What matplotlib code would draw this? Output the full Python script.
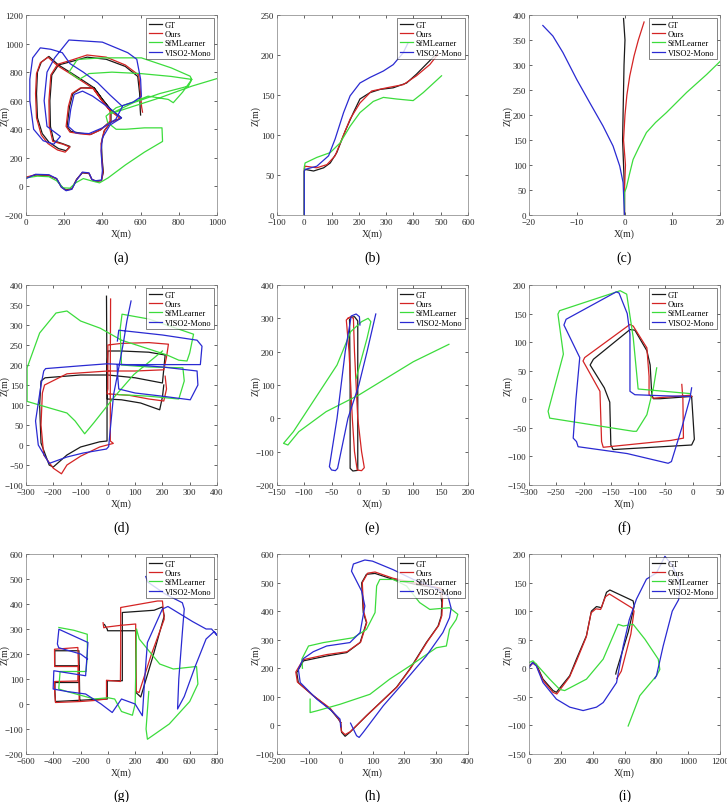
import numpy as np
import matplotlib
matplotlib.use("Agg")
import matplotlib.pyplot as plt

plt.rcParams['font.family'] = ['Liberation Serif', 'DejaVu Serif']

series_names = ["GT", "Ours", "SfMLearner", "VISO2-Mono"]
series_colors = ["#1a1a1a", "#d42424", "#3cdc3c", "#2a2ad2"]

# trajectories, (X, Z) in metres
# (a)
a_gt = [(0, 60), (50, 80), (120, 75), (160, 55), (185, 0), (210, -25), (240, -15), (265, 50), (295, 95),
        (330, 90), (345, 50), (365, 35), (395, 40), (405, 100), (398, 200), (395, 300), (410, 390), (445, 450),
        (500, 480), (445, 535), (400, 610), (357, 690), (290, 690), (245, 650), (228, 560), (215, 420),
        (235, 385), (290, 372), (340, 365), (393, 399), (445, 460), (445, 535), (400, 610), (357, 690),
        (300, 740), (230, 800), (170, 850), (120, 910), (80, 870), (60, 800), (55, 650), (60, 480), (85, 370),
        (120, 310), (170, 265), (210, 250), (230, 280), (190, 300), (145, 320), (128, 420), (125, 600),
        (135, 780), (170, 850), (240, 875), (320, 905), (420, 890), (520, 840), (585, 770), (595, 650),
        (598, 540), (600, 500)]
a_ours = [(0, 65), (50, 82), (120, 78), (160, 52), (185, -5), (210, -28), (240, -18), (265, 48), (295, 98),
          (330, 92), (345, 48), (365, 38), (395, 42), (403, 100), (396, 200), (393, 300), (408, 385), (440, 448),
          (495, 475), (440, 530), (395, 605), (352, 685), (285, 690), (240, 650), (222, 560), (210, 420),
          (230, 380), (285, 368), (335, 362), (390, 395), (440, 455), (440, 530), (395, 605), (352, 685),
          (295, 735), (225, 795), (165, 845), (115, 905), (75, 865), (55, 790), (50, 650), (55, 480), (80, 360),
          (115, 300), (165, 255), (205, 240), (230, 275), (195, 295), (140, 315), (122, 420), (120, 600),
          (130, 780), (165, 855), (240, 885), (320, 920), (420, 905), (520, 850), (590, 780), (600, 650),
          (605, 560), (610, 520)]
a_sfm = [(0, 60), (60, 72), (120, 68), (160, 40), (195, -10), (230, -12), (260, 25), (300, 55), (340, 40),
         (385, 25), (430, 60), (520, 150), (620, 240), (715, 315), (712, 410), (620, 410), (520, 400), (472, 400),
         (428, 446), (419, 492), (472, 551), (560, 590), (639, 632), (745, 609), (771, 586), (820, 660),
         (868, 749), (859, 772), (760, 830), (604, 900), (400, 900), (269, 889), (225, 800), (278, 749),
         (330, 790), (450, 800), (600, 790), (760, 770), (868, 749), (850, 702), (700, 650), (560, 585),
         (445, 510), (560, 560), (700, 620), (868, 702), (1000, 755)]
a_viso = [(0, 55), (50, 85), (120, 82), (160, 55), (185, -5), (210, -30), (240, -20), (265, 45), (295, 100),
          (330, 95), (345, 48), (365, 40), (395, 45), (400, 110), (393, 250), (400, 340), (440, 430), (500, 480),
          (445, 540), (349, 632), (296, 667), (252, 644), (234, 539), (222, 420), (260, 375), (330, 370),
          (400, 410), (470, 470), (505, 560), (440, 640), (375, 726), (300, 800), (230, 860), (190, 936),
          (130, 960), (75, 970), (35, 900), (20, 750), (20, 600), (40, 400), (90, 320), (145, 295), (180, 350),
          (150, 380), (110, 420), (95, 600), (110, 800), (150, 900), (225, 1025), (400, 1010), (533, 936),
          (580, 890), (600, 750), (604, 630), (560, 590), (505, 565)]

# (b)
b_gt = [(0, 0), (0, 55), (3, 57), (34, 55), (71, 59), (95, 65), (119, 78), (150, 105), (180, 128), (204, 145),
        (241, 153), (278, 157), (326, 159), (375, 165), (411, 176), (466, 195), (480, 200)]
b_ours = [(0, 0), (0, 58), (3, 61), (46, 59), (83, 63), (113, 74), (138, 95), (168, 120), (204, 140),
          (247, 155), (302, 159), (363, 163), (411, 174), (460, 188), (490, 201)]
b_sfm = [(0, 0), (0, 60), (3, 65), (46, 72), (95, 78), (131, 90), (168, 111), (204, 128), (253, 142),
         (290, 147), (338, 145), (399, 143), (436, 153), (503, 174)]
b_viso = [(0, 0), (0, 55), (3, 57), (46, 61), (89, 74), (113, 95), (144, 128), (168, 149), (204, 165),
          (241, 172), (290, 180), (326, 188), (363, 203), (380, 215)]

# (c)
c_gt = [(0, 0), (0, 50), (-0.2, 100), (-0.4, 150), (-0.3, 200), (-0.2, 250), (-0.1, 300), (0.1, 350),
        (-0.2, 393)]
c_ours = [(0, 0), (0, 50), (0.2, 100), (-0.2, 150), (0.1, 200), (0.5, 240), (1.1, 278), (2, 318),
          (2.9, 350), (4.1, 386)]
c_sfm = [(0, 0), (0, 45), (0.4, 55), (1, 80), (1.8, 111), (3, 135), (4.6, 165), (6.5, 185), (8.8, 205),
         (13, 245), (17.2, 281), (20, 307)]
c_viso = [(0, 0), (-0.3, 65), (-1, 98), (-2.4, 138), (-4.5, 178), (-7.3, 225), (-10, 271), (-12.9, 325),
          (-15, 358), (-17.1, 379)]

# (d)
d_gt = [(-5, 372), (-4, 250), (-3, 120), (-3, 10), (-30, 8), (-100, -5), (-150, -25), (-200, -55),
        (-215, -50), (-245, 5), (-250, 100), (-245, 160), (-230, 168), (-100, 175), (0, 175), (100, 168),
        (200, 155), (205, 190), (210, 225), (150, 232), (50, 235), (0, 235), (-2, 200), (-2, 115), (50, 113),
        (120, 105), (190, 88), (200, 120), (205, 150)]
d_ours = [(10, 365), (9, 200), (9, 10), (20, 4), (-30, -5), (-100, -28), (-150, -50), (-170, -72),
          (-200, -58), (-235, -25), (-245, 50), (-240, 130), (-232, 150), (-150, 178), (0, 185), (100, 185),
          (205, 188), (215, 220), (222, 252), (150, 256), (50, 254), (0, 250), (0, 200), (0, 140), (-3, 128),
          (80, 124), (150, 115), (205, 110), (215, 140), (210, 172)]
d_sfm = [(200, 235), (95, 176), (21, 118), (-52, 55), (-85, 28), (-120, 60), (-150, 80), (-211, 92),
         (-296, 109), (-296, 193), (-250, 280), (-190, 330), (-150, 335), (-100, 310), (-28, 292), (50, 262),
         (150, 240), (217, 225), (260, 212), (290, 210), (300, 230), (314, 277), (150, 315), (52, 327),
         (45, 290), (50, 200), (150, 195), (275, 193), (280, 160), (260, 115), (150, 122), (40, 126)]
d_viso = [(85, 360), (70, 311), (58, 260), (40, 193), (21, 126), (3, -4), (-5, -10), (-90, -20), (-150, -30),
          (-215, -46), (-255, 0), (-265, 60), (-245, 150), (-235, 185), (-228, 191), (-100, 198), (-3, 203),
          (100, 200), (200, 195), (327, 185), (330, 150), (302, 113), (200, 122), (100, 130), (40, 140),
          (35, 180), (34, 201), (200, 201), (339, 201), (345, 247), (327, 262), (200, 275), (40, 287),
          (35, 260)]

# (e)
e_gt = [(-17, 295), (-16, 100), (-16, -150), (-11, -158), (-2, -156), (-2, 0), (-2, 292), (-8, 305),
        (-15, 303), (-17, 295)]
e_ours = [(-20, 300), (-15, 305), (-10, 300), (-8, 200), (-2, 0), (5, -100), (10, -148), (5, -157),
          (-3, -155), (-8, -100), (-12, 0), (-18, 200), (-23, 295), (-20, 300)]
e_sfm = [(165, 222), (100, 170), (40, 110), (0, 70), (-60, 20), (-110, -40), (-130, -80), (-138, -75),
         (-120, -40), (-80, 60), (-40, 160), (-15, 260), (5, 290), (17, 300), (22, 290), (15, 240), (5, 180),
         (-5, 120)]
e_viso = [(2, 280), (1, 305), (-5, 313), (-14, 307), (-25, 200), (-40, 0), (-54, -145), (-50, -155),
          (-43, -157), (-39, -150), (-20, 0), (0, 100), (15, 200), (31, 313)]

# (f)
f_gt = [(-2, 5), (3, -70), (-2, -80), (-146, -88), (-150, -80), (-152, -5), (-162, 20), (-188, 60),
        (-182, 70), (-115, 122), (-106, 121), (-84, 85), (-78, 60), (-75, 8), (-72, 1), (-60, 1), (-2, 5)]
f_ours = [(-20, 26), (-18, 0), (-17, -68), (-40, -72), (-164, -84), (-167, -74), (-170, 14), (-201, 67),
          (-198, 73), (-115, 131), (-109, 128), (-84, 90), (-80, 40), (-80, 8), (-72, 2), (-5, 7), (-2, 5)]
f_sfm = [(-5, 10), (-100, 18), (-109, 108), (-121, 184), (-133, 190), (-244, 155), (-247, 149), (-237, 79),
         (-265, -21), (-262, -33), (-109, -56), (-103, -56), (-84, -27), (-72, 20), (-66, 55)]
f_viso = [(-2, 20), (-5, 2), (-20, -50), (-39, -109), (-45, -112), (-120, -95), (-210, -83), (-213, -74),
          (-219, -68), (-214, 0), (-207, 73), (-236, 130), (-232, 140), (-140, 188), (-135, 186), (-120, 150),
          (-115, 114), (-115, 14), (-106, 8), (-50, 6), (-5, 5)]

# (g)
g_gt = [(-25, 318), (-5, 300), (-2, 293), (204, 293), (205, 150), (206, 46), (241, 28), (330, 190), (413, 352),
        (400, 388), (339, 375), (106, 366), (106, 200), (106, 93), (-4, 93), (-4, 20), (-100, 18), (-200, 15),
        (-384, 10), (-388, 50), (-388, 86), (-212, 86), (-210, 153), (-389, 153), (-389, 213), (-212, 213),
        (-210, 150), (-208, 86), (-206, 15)]
g_ours = [(-35, 325), (-30, 305), (-5, 308), (100, 315), (204, 320), (206, 150), (208, 50), (229, 46),
          (320, 200), (413, 339), (400, 412), (364, 412), (94, 386), (94, 200), (92, 90), (-10, 95), (-10, 20),
          (-100, 14), (-200, 10), (-384, 6), (-390, 50), (-390, 90), (-220, 92), (-218, 150), (-390, 150),
          (-391, 219), (-220, 226), (-215, 150), (-212, 90), (-210, 12)]
g_sfm = [(-359, 306), (-250, 295), (-151, 279), (-150, 200), (-160, 130), (-350, 130), (-360, 60), (-300, 50),
         (-100, 20), (0, 25), (50, 20), (100, -30), (180, -45), (200, 0), (210, 300), (230, 260), (380, 160),
         (480, 140), (650, 150), (660, 80), (600, 10), (450, -80), (290, -141), (280, -100), (300, 50)]
g_viso = [(278, 510), (292, 488), (420, 440), (546, 405), (560, 380), (548, 300), (520, 100), (511, -20),
          (560, 30), (640, 150), (720, 260), (780, 290), (800, 275), (760, 300), (720, 300), (620, 330),
          (440, 390), (400, 380), (290, 246), (270, 100), (253, -47), (200, 0), (100, 20), (32, -34), (-50, 0),
          (-163, 40), (-300, 50), (-401, 60), (-396, 133), (-163, 113), (-146, 246), (-359, 299), (-370, 240),
          (-360, 225), (-200, 200), (-150, 180)]

# (h)
h_gt = [(0, 10), (3, -24), (14, -38), (29, -24), (81, 34), (175, 133), (217, 197), (269, 290), (306, 348),
        (316, 383), (318, 430), (310, 480), (250, 490), (165, 511), (108, 532), (81, 529), (66, 499), (71, 395),
        (81, 360), (61, 290), (19, 255), (-44, 243), (-117, 226), (-138, 185), (-133, 150), (-86, 104),
        (-33, 57), (-7, 22), (0, 10)]
h_ours = [(0, 10), (2, -20), (14, -32), (30, -22), (85, 38), (178, 136), (220, 200), (272, 293), (308, 350),
          (318, 385), (320, 440), (315, 480), (250, 495), (165, 515), (108, 537), (85, 533), (68, 500),
          (72, 400), (82, 360), (63, 292), (20, 258), (-44, 248), (-118, 230), (-141, 187), (-136, 152),
          (-88, 106), (-33, 60), (-6, 22), (0, 10)]
h_sfm = [(-96, 92), (-96, 45), (-75, 51), (-2, 74), (92, 109), (154, 162), (217, 208), (301, 272), (332, 278),
         (342, 336), (363, 371), (368, 389), (342, 412), (280, 406), (248, 430), (207, 488), (165, 511),
         (123, 511), (113, 488), (108, 395), (81, 336), (40, 307), (-54, 290), (-101, 278), (-122, 232),
         (-120, 200)]
h_viso = [(31, 8), (50, -36), (58, -42), (71, -24), (134, 69), (207, 162), (269, 243), (321, 325), (342, 377),
          (347, 410), (337, 453), (300, 480), (230, 510), (165, 545), (100, 575), (76, 579), (40, 565),
          (34, 540), (50, 505), (66, 470), (76, 418), (61, 325), (29, 290), (-44, 278), (-86, 258), (-117, 234),
          (-133, 197), (-127, 150), (-75, 92), (-28, 51), (-2, 22), (0, -5)]

# (i)
i_gt = [(0, 4), (25, 10), (46, 7), (88, -19), (151, -39), (172, -42), (256, -13), (298, 16), (361, 57),
        (392, 100), (424, 108), (455, 106), (487, 133), (508, 137), (654, 118), (661, 109), (623, 63),
        (550, -4), (545, -10)]
i_ours = [(0, 2), (25, 9), (46, 5), (90, -22), (150, -42), (175, -45), (255, -15), (300, 14), (360, 55),
          (390, 97), (420, 104), (450, 103), (480, 125), (505, 130), (650, 105), (660, 100), (640, 60),
          (580, -5), (552, -18)]
i_sfm = [(0, 10), (25, 13), (46, 7), (130, -19), (193, -37), (224, -39), (361, -19), (466, 16), (560, 77),
         (592, 74), (654, 77), (728, 51), (812, 16), (822, -2), (801, -13), (696, -48), (623, -101)]
i_viso = [(0, 1), (21, 10), (46, 4), (88, -25), (172, -54), (256, -68), (340, -74), (424, -68), (466, -60),
          (550, -25), (592, 39), (630, 85), (675, 121), (738, 156), (801, 167), (854, 196), (900, 180),
          (950, 150), (940, 120), (900, 100), (843, 39), (801, -13), (790, -18)]

panels = [
    ("(a)", [a_gt, a_ours, a_sfm, a_viso], (0, 1000), (-200, 1200), np.arange(0, 1001, 200), np.arange(-200, 1201, 200)),
    ("(b)", [b_gt, b_ours, b_sfm, b_viso], (-100, 600), (0, 250), np.arange(-100, 601, 100), np.arange(0, 251, 50)),
    ("(c)", [c_gt, c_ours, c_sfm, c_viso], (-20, 20), (0, 400), np.arange(-20, 21, 10), np.arange(0, 401, 50)),
    ("(d)", [d_gt, d_ours, d_sfm, d_viso], (-300, 400), (-100, 400), np.arange(-300, 401, 100), np.arange(-100, 401, 50)),
    ("(e)", [e_gt, e_ours, e_sfm, e_viso], (-150, 200), (-200, 400), np.arange(-150, 201, 50), np.arange(-200, 401, 100)),
    ("(f)", [f_gt, f_ours, f_sfm, f_viso], (-300, 50), (-150, 200), np.arange(-300, 51, 50), np.arange(-150, 201, 50)),
    ("(g)", [g_gt, g_ours, g_sfm, g_viso], (-600, 800), (-200, 600), np.arange(-600, 801, 200), np.arange(-200, 601, 100)),
    ("(h)", [h_gt, h_ours, h_sfm, h_viso], (-200, 400), (-100, 600), np.arange(-200, 401, 100), np.arange(-100, 601, 100)),
    ("(i)", [i_gt, i_ours, i_sfm, i_viso], (0, 1200), (-150, 200), np.arange(0, 1201, 200), np.arange(-150, 201, 50)),
]

W, H = 727, 803
col_left = [26, 277, 529]
col_width = 191
row_top = [16, 286, 555]
row_height = 200
caption_y = [258, 528, 796]

fig = plt.figure(figsize=(W / 100, H / 100), dpi=100)

for k, (cap, trajs, xlim, ylim, xt, yt) in enumerate(panels):
    r, c = divmod(k, 3)
    ax = fig.add_axes([col_left[c] / W, 1 - (row_top[r] + row_height) / H, col_width / W, row_height / H])
    for traj, name, col in zip(trajs, series_names, series_colors):
        arr = np.array(traj, dtype=float)
        ax.plot(arr[:, 0], arr[:, 1], color=col, lw=0.9, label=name)
    ax.set_xlim(*xlim)
    ax.set_ylim(*ylim)
    ax.set_xticks(xt)
    ax.set_yticks(yt)
    ax.tick_params(direction='in', length=2.5, width=0.5, labelsize=6.5, top=True, right=True,
                   colors='#262626', pad=2)
    for sp in ax.spines.values():
        sp.set_linewidth(0.5)
        sp.set_color('#808080')
    ax.set_xlabel("X(m)", fontsize=7, labelpad=2, color='#262626')
    ax.set_ylabel("Z(m)", fontsize=7, color='#262626')
    ax.yaxis.set_label_coords(-0.085, 0.5)
    leg = ax.legend(loc='upper right', fontsize=6, frameon=True, fancybox=False, handlelength=1.6,
                    handletextpad=0.3, borderpad=0.3, labelspacing=0.15, borderaxespad=0.4)
    leg.get_frame().set_edgecolor('#262626')
    leg.get_frame().set_linewidth(0.5)
    fig.text((col_left[c] + col_width / 2) / W, 1 - caption_y[r] / H, cap, ha='center', va='center',
             fontsize=10)

fig.savefig("out.png", dpi=100)
